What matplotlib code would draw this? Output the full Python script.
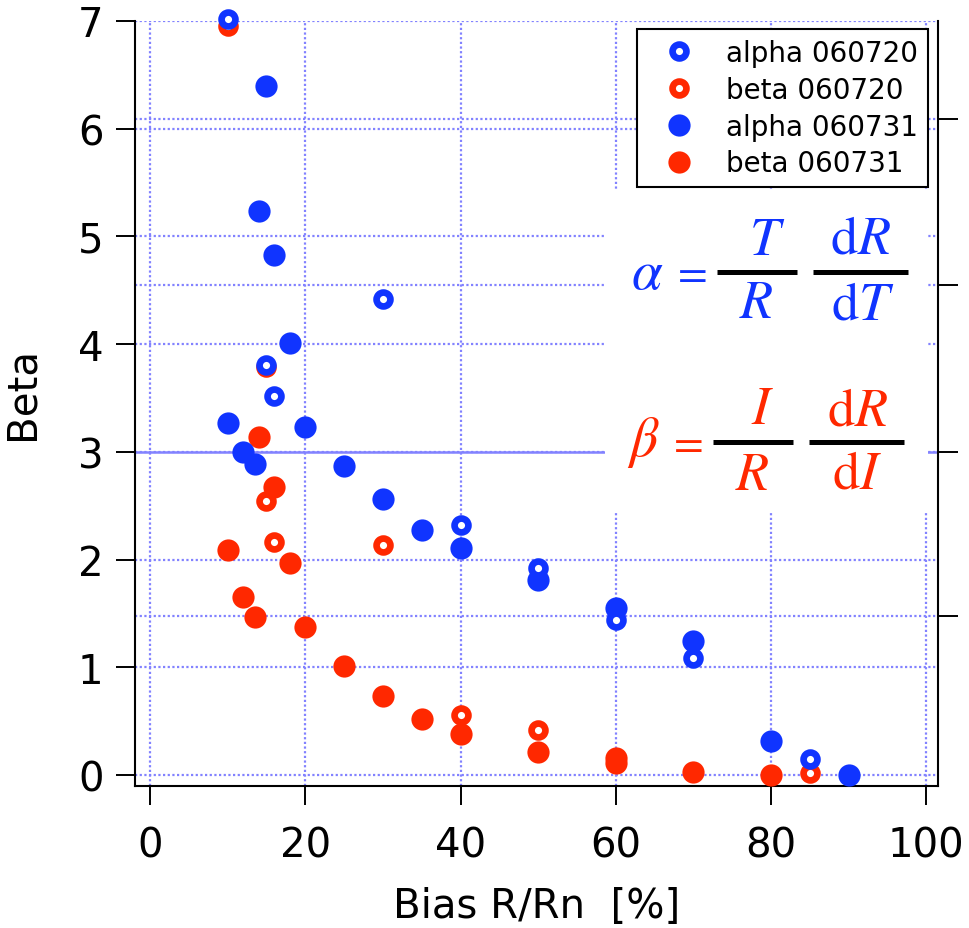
import matplotlib
matplotlib.use("Agg")
import matplotlib.pyplot as plt
from matplotlib.lines import Line2D
from matplotlib.patches import Rectangle

plt.rcParams['font.family'] = ['DejaVu Sans']
plt.rcParams['mathtext.fontset'] = 'stix'

BLUE = '#1034ff'
RED = '#ff2800'
GRID = '#8282ff'

# data
alpha_720_x = [10, 15, 16, 30, 40, 50, 60, 70, 85]
alpha_720_y = [7.02, 3.81, 3.52, 4.42, 2.32, 1.92, 1.44, 1.09, 0.15]
beta_720_x = [10, 15, 15, 16, 30, 40, 50, 85]
beta_720_y = [6.95, 3.79, 2.54, 2.16, 2.14, 0.56, 0.42, 0.02]
alpha_731_x = [15, 14, 16, 18, 10, 12, 13.5, 20, 25, 30, 35, 40, 50, 60, 70, 80, 90]
alpha_731_y = [6.40, 5.24, 4.83, 4.01, 3.27, 3.00, 2.89, 3.23, 2.87, 2.56, 2.27, 2.11,
               1.81, 1.55, 1.24, 0.32, 0.00]
beta_731_x = [14, 16, 10, 18, 12, 13.5, 20, 25, 30, 35, 40, 50, 60, 60, 70, 80]
beta_731_y = [3.14, 2.67, 2.09, 1.97, 1.65, 1.47, 1.37, 1.01, 0.73, 0.52, 0.38, 0.21,
              0.16, 0.11, 0.03, 0.00]

x_ticks = [0, 20, 40, 60, 80, 100]
y_ticks = [0, 1, 2, 3, 4, 5, 6, 7]
right_ticks = [1.48, 3.0, 4.55, 6.09]
right_zero = 3.0

W, H = 969, 929
fig = plt.figure(figsize=(W / 100, H / 100), dpi=100)
ax = fig.add_axes([135 / W, 1 - 787 / H, (938 - 135) / W, (787 - 22) / H])
ax.set_xlim(-1.93, 101.5)
ax.set_ylim(-0.102, 7.0)

ax.set_axisbelow(True)
dots = (0, (1, 1.1))
ax.grid(True, color=GRID, linestyle=dots, linewidth=1.6)
for v in right_ticks:
    if v == right_zero:
        ax.axhline(v, color=GRID, linewidth=1.8, zorder=0.6)
    else:
        ax.axhline(v, color=GRID, linestyle=dots, linewidth=1.6, zorder=0.6)

# white area behind the formulas
ax.add_patch(Rectangle((0.585, 0.358), 0.4025, 0.422, transform=ax.transAxes,
                       facecolor='white', edgecolor='none', zorder=1.5))

filled = dict(linestyle='none', marker='o', markersize=16, markeredgewidth=0, clip_on=False)
hollow = dict(linestyle='none', marker='o', markersize=10, markeredgewidth=4.8,
              markerfacecolor='white', clip_on=False)

h4, = ax.plot(beta_731_x, beta_731_y, color=RED, label='beta 060731', zorder=3, **filled)
h3, = ax.plot(alpha_731_x, alpha_731_y, color=BLUE, label='alpha 060731', zorder=3.1, **filled)
h2, = ax.plot(beta_720_x, beta_720_y, color=RED, markeredgecolor=RED, label='beta 060720',
              zorder=3.2, **hollow)
h1, = ax.plot(alpha_720_x, alpha_720_y, color=BLUE, markeredgecolor=BLUE, label='alpha 060720',
              zorder=3.3, **hollow)

leg = ax.legend(handles=[h1, h2, h3, h4], loc='upper right', bbox_to_anchor=(0.9875, 0.9895),
                borderaxespad=0, fontsize=20, handlelength=2.3, handletextpad=0.55,
                labelspacing=0.32, borderpad=0.35, fancybox=False, framealpha=1,
                edgecolor='black')
leg.get_frame().set_linewidth(1.5)
leg.set_zorder(5)

ax.spines['top'].set_visible(False)
for s in ['left', 'bottom', 'right']:
    ax.spines[s].set_linewidth(1.5)
ax.set_xticks(x_ticks)
ax.set_yticks(y_ticks)
ax.tick_params(axis='both', direction='out', length=13.7, width=1.4, labelsize=29)
ax.tick_params(axis='y', pad=9)
ax.tick_params(axis='x', pad=15)

ax.set_xlabel('Bias R/Rn  [%]', fontsize=29)
ax.xaxis.set_label_coords(0.5, -0.131)
ax.set_ylabel('Beta', fontsize=29)
ax.yaxis.set_label_coords(-0.1146, 0.515)

tw = ax.twinx()
tw.set_ylim(ax.get_ylim())
tw.set_yticks(right_ticks)
tw.set_yticklabels([])
tw.tick_params(axis='y', direction='out', length=14.5, width=1.4)
for s in tw.spines.values():
    s.set_visible(False)


def ftext(x, y, s, color, size=39):
    fig.text(x / W, 1 - y / H, s, color=color, fontsize=size, ha='center', va='center')


def fbar(x0, x1, y):
    fig.add_artist(Line2D([x0 / W, x1 / W], [1 - y / H, 1 - y / H], color='black',
                          linewidth=3.6, solid_capstyle='butt'))


# alpha = T/R dR/dT
ftext(647, 274, r'$\alpha$', BLUE, 40)
ftext(689, 273, r'$=$', BLUE, 31)
fbar(717, 797, 273)
fbar(813, 908, 273)
ftext(767, 240, r'$T$', BLUE)
ftext(756, 303, r'$R$', BLUE)
ftext(860, 239, r'$\mathrm{d}R$', BLUE)
ftext(863, 304, r'$\mathrm{d}T$', BLUE)

# beta = I/R dR/dI
ftext(643, 443, r'$\beta$', RED, 40)
ftext(685, 443, r'$=$', RED, 31)
fbar(713, 793, 443)
fbar(809, 904, 443)
ftext(763, 409, r'$I$', RED)
ftext(752, 475, r'$R$', RED)
ftext(857, 410, r'$\mathrm{d}R$', RED)
ftext(857, 474, r'$\mathrm{d}I$', RED)

fig.savefig('out.png', dpi=100)
